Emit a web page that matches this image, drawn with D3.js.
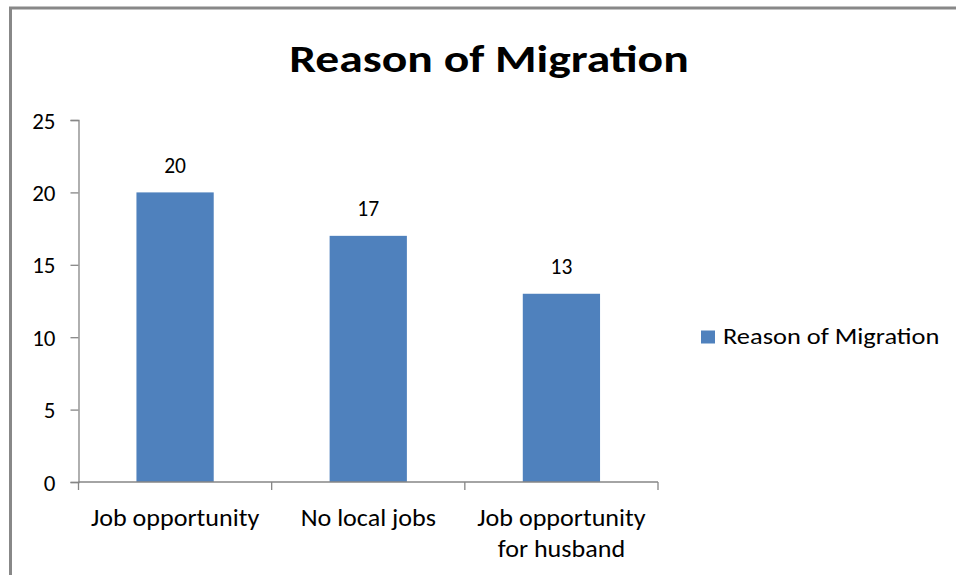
<!DOCTYPE html>
<html>
<head>
<meta charset="utf-8">
<script src="https://cdn.jsdelivr.net/npm/d3@7"></script>
<style>
  html, body { margin: 0; padding: 0; background: #ffffff; }
  svg { display: block; }
  text { font-family: Carlito, Lato, "Open Sans", sans-serif; fill: #000; }
</style>
</head>
<body>
<svg id="chart" width="956" height="575"></svg>
<script>
// Chart data
const chartTitle = "Reason of Migration";
const seriesName = "Reason of Migration";
const categories = ["Job opportunity", "No local jobs", "Job opportunity for husband"];
const categoryLines = [["Job opportunity"], ["No local jobs"], ["Job opportunity", "for husband"]];
const values = [20, 17, 13];
const yTicks = [0, 5, 10, 15, 20, 25];

const barColor = "#4F81BD";
const axisColor = "#868686";

const svg = d3.select("#chart");

// Widen text horizontally by a factor (the font is set in a narrow face)
function widen(sel, factor) {
  sel.each(function () {
    const w = this.getComputedTextLength();
    d3.select(this).attr("textLength", w * factor).attr("lengthAdjust", "spacingAndGlyphs");
  });
}

// Outer frame of the chart area
svg.append("rect")
  .attr("x", 10.5).attr("y", 8)
  .attr("width", 1000).attr("height", 600)
  .attr("fill", "none")
  .attr("stroke", "#888888")
  .attr("stroke-width", 3);

// Title
svg.append("text")
  .attr("x", 489).attr("y", 72)
  .attr("text-anchor", "middle")
  .attr("font-size", 39)
  .attr("font-weight", "bold")
  .text(chartTitle)
  .call(widen, 1.22);

// Scales
const x = d3.scaleBand().domain(categories).range([78.5, 658]).padding(0);
const y = d3.scaleLinear().domain([0, 25]).range([482, 120]);

// Y axis
const yAxis = svg.append("g")
  .attr("transform", "translate(78.5,0)")
  .call(d3.axisLeft(y).tickValues(yTicks).tickSize(8).tickPadding(15));
yAxis.selectAll("path, line").attr("stroke", axisColor).attr("stroke-width", 1.3);
yAxis.selectAll("text")
  .attr("font-size", 23)
  .attr("dy", "0.35em")
  .style("font-family", "Carlito, Lato, sans-serif")
  .attr("fill", "#000");

// Bars
svg.selectAll("rect.bar")
  .data(values)
  .join("rect")
  .attr("class", "bar")
  .attr("x", (d, i) => x(categories[i]) + x.bandwidth() * 0.3)
  .attr("width", x.bandwidth() * 0.4)
  .attr("y", d => y(d))
  .attr("height", d => y(0) - y(d))
  .attr("fill", barColor);

// X axis baseline and category separators
const xAxis = svg.append("g").attr("transform", `translate(0,${y(0)})`);
xAxis.append("line")
  .attr("x1", x.range()[0]).attr("x2", x.range()[1])
  .attr("stroke", axisColor).attr("stroke-width", 1.5);
const boundaries = categories.map(c => x(c)).concat([x.range()[1]]);
xAxis.selectAll("line.sep")
  .data(boundaries)
  .join("line")
  .attr("class", "sep")
  .attr("x1", d => d).attr("x2", d => d)
  .attr("y1", 0).attr("y2", 8)
  .attr("stroke", axisColor).attr("stroke-width", 1.3);

// Category labels
const labels = svg.append("g");
categoryLines.forEach((lines, i) => {
  const cx = x(categories[i]) + x.bandwidth() / 2;
  lines.forEach((ln, j) => {
    labels.append("text")
      .attr("x", cx)
      .attr("y", 526 + j * 31)
      .attr("text-anchor", "middle")
      .attr("font-size", 23.5)
      .text(ln);
  });
});
widen(labels.selectAll("text"), 1.11);

// Value labels
svg.selectAll("text.value")
  .data(values)
  .join("text")
  .attr("class", "value")
  .attr("x", (d, i) => x(categories[i]) + x.bandwidth() / 2)
  .attr("y", d => y(d) - 19.5)
  .attr("text-anchor", "middle")
  .attr("font-size", 21.5)
  .text(d => d);

// Legend
const legend = svg.append("g");
legend.append("rect")
  .attr("x", 701).attr("y", 330.5)
  .attr("width", 14).attr("height", 13)
  .attr("fill", barColor);
legend.append("text")
  .attr("x", 723).attr("y", 343.5)
  .attr("font-size", 22)
  .text(seriesName)
  .call(widen, 1.2);
</script>
</body>
</html>
